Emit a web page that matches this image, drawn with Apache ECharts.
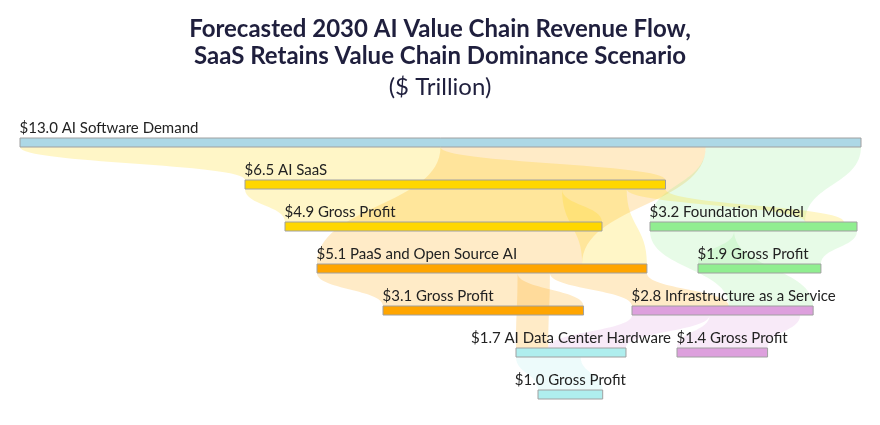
<!DOCTYPE html>
<html>
<head>
<meta charset="utf-8">
<script src="https://cdn.jsdelivr.net/npm/echarts@6/dist/echarts.min.js"></script>
<style>
  html, body { margin: 0; padding: 0; background: #fff; }
  #chart { width: 880px; height: 425px; }
</style>
</head>
<body>
<div id="chart"></div>
<script>
// ---- data ----
const nodeNames = ['AI Software Demand', 'AI SaaS', 'SaaS Gross Profit', 'Foundation Model',
  'PaaS and Open Source AI', 'Foundation Model Gross Profit', 'PaaS Gross Profit',
  'Infrastructure as a Service', 'AI Data Center Hardware', 'IaaS Gross Profit', 'Hardware Gross Profit'];
const nodeLabels = ['AI Software Demand', 'AI SaaS', 'Gross Profit', 'Foundation Model',
  'PaaS and Open Source AI', 'Gross Profit', 'Gross Profit',
  'Infrastructure as a Service', 'AI Data Center Hardware', 'Gross Profit', 'Gross Profit'];
const nodeValues = [13.0, 6.5, 4.9, 3.2, 5.1, 1.9, 3.1, 2.8, 1.7, 1.4, 1.0];
const nodeLayers = [0, 1, 2, 2, 3, 3, 4, 4, 5, 5, 6];

const linkSources = ['AI Software Demand', 'AI Software Demand', 'AI Software Demand',
  'AI SaaS', 'AI SaaS', 'AI SaaS',
  'PaaS and Open Source AI', 'PaaS and Open Source AI', 'PaaS and Open Source AI',
  'Foundation Model', 'Foundation Model',
  'Infrastructure as a Service', 'Infrastructure as a Service',
  'AI Data Center Hardware'];
const linkTargets = ['AI SaaS', 'PaaS and Open Source AI', 'Foundation Model',
  'SaaS Gross Profit', 'PaaS and Open Source AI', 'Foundation Model',
  'PaaS Gross Profit', 'AI Data Center Hardware', 'Infrastructure as a Service',
  'Infrastructure as a Service', 'Foundation Model Gross Profit',
  'AI Data Center Hardware', 'IaaS Gross Profit',
  'Hardware Gross Profit'];
const linkValues = [6.5, 4.1, 2.4, 4.9, 1.0, 0.6, 3.1, 0.5, 1.5, 1.3, 1.9, 1.2, 1.4, 1.0];

// ---- layout / style (kept apart from data) ----
const nodeColors = ['#ADD8E6', '#FFD700', '#FFD700', '#90EE90', '#FFA500', '#90EE90',
  '#FFA500', '#DDA0DD', '#AFEEEE', '#DDA0DD', '#AFEEEE'];
const nodeLeftPx = [20, 245, 285, 650, 317, 698, 383, 632, 516, 677, 538];
const labelCentered = [false, false, false, false, false, false, false, false, true, false, true];
const plotLeft = 20, plotWidth = 841, plotTop = 138, plotHeight = 252;

const colorOf = {};
nodeNames.forEach((n, i) => { colorOf[n] = nodeColors[i]; });

const nodes = nodeNames.map((n, i) => {
  const node = {
    name: n,
    value: nodeValues[i],
    depth: nodeLayers[i],
    localX: (nodeLeftPx[i] - plotLeft) / plotWidth,
    localY: nodeLayers[i] / 6,
    itemStyle: { color: nodeColors[i] }
  };
  if (labelCentered[i]) node.label = { position: ['50%', -2], align: 'center' };
  return node;
});

const links = linkSources.map((s, i) => ({
  source: s,
  target: linkTargets[i],
  value: linkValues[i],
  lineStyle: { color: s === nodeNames[0] ? colorOf[linkTargets[i]] : colorOf[s] }
}));

const chart = echarts.init(document.getElementById('chart'), null, { renderer: 'canvas' });
chart.setOption({
  backgroundColor: '#fff',
  animation: false,
  title: {
    text: 'Forecasted 2030 AI Value Chain Revenue Flow,\nSaaS Retains Value Chain Dominance Scenario',
    subtext: '($ Trillion)',
    left: 'center',
    top: 11,
    itemGap: 4,
    textStyle: { fontFamily: 'Lato', fontWeight: 'bold', fontSize: 24, lineHeight: 27, color: '#1f1f3d' },
    subtextStyle: { fontFamily: 'Lato', fontSize: 24, lineHeight: 26, color: '#1f1f3d' }
  },
  series: [{
    type: 'sankey',
    orient: 'vertical',
    left: plotLeft,
    top: plotTop,
    width: plotWidth,
    height: plotHeight,
    nodeWidth: 9,
    nodeGap: 8,
    layoutIterations: 0,
    draggable: false,
    emphasis: { disabled: true },
    data: nodes,
    links: links,
    itemStyle: { borderColor: '#a0a0a0', borderWidth: 1 },
    lineStyle: { opacity: 0.22, curveness: 0.5 },
    label: {
      show: true,
      position: [0, -2],
      align: 'left',
      verticalAlign: 'bottom',
      fontFamily: 'Lato',
      fontSize: 15,
      color: '#222',
      formatter: p => '$' + p.value.toFixed(1) + ' ' + nodeLabels[nodeNames.indexOf(p.name)]
    }
  }]
});
</script>
</body>
</html>
